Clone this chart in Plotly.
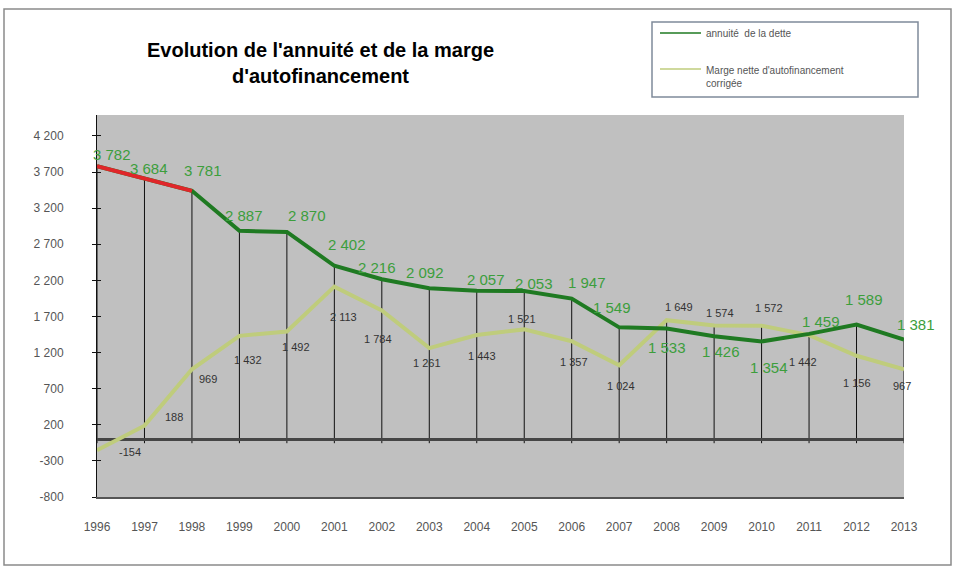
import plotly.graph_objects as go

years = list(range(1996, 2014))
# annuité de la dette (line positions) and printed labels
annuite = [3782, 3604, 3440, 2887, 2870, 2402, 2216, 2092, 2057, 2053, 1947, 1549, 1533, 1426, 1354, 1459, 1589, 1381]
annuite_labels = [3782, 3684, 3781, 2887, 2870, 2402, 2216, 2092, 2057, 2053, 1947, 1549, 1533, 1426, 1354, 1459, 1589, 1381]
# marge nette d'autofinancement corrigée
marge = [-154, 188, 969, 1432, 1492, 2113, 1784, 1261, 1443, 1521, 1357, 1024, 1649, 1574, 1572, 1442, 1156, 967]
ytick_vals = [-800, -300, 200, 700, 1200, 1700, 2200, 2700, 3200, 3700, 4200]

# label pixel offsets (style)
g_off = [(15, -12), (5, -10), (11, -20), (5, -15), (20, -16), (13, -21), (-5, -12), (-4, -16), (9, -11),
         (10, -7), (15, -16), (-7, -20), (0, 19), (7, 15), (7, 26), (12, -12), (7, -25), (12, -15)]
m_off = [(33, 2), (30, -9), (16, 10), (9, 24), (9, 16), (9, 30), (-4, 29), (-2, 15), (5, 21),
         (-2, -10), (2, 21), (2, 21), (12, -13), (6, -13), (7, -18), (-6, 27), (0, 27), (-2, 17)]

W, H = 959, 567
L, R, T, B = 97, 904, 115, 497


def px(x):
    return (x - L) / (R - L)


def py(y):
    return (B - y) / (B - T)


def fmt(v):
    return f"{v:,}".replace(",", " ")


GREEN = "#1f7a22"
GREEN_LBL = "#3c9e3c"
OLIVE = "#bfcc7c"
RED = "#e0262a"
FONT = "Liberation Sans, Arial"

fig = go.Figure()
fig.add_trace(go.Scatter(x=years, y=marge, mode="lines", line=dict(color=OLIVE, width=4),
                         showlegend=False, hoverinfo="skip"))
fig.add_trace(go.Scatter(x=years, y=annuite, mode="lines", line=dict(color=GREEN, width=4),
                         showlegend=False, hoverinfo="skip"))
fig.add_trace(go.Scatter(x=years[:3], y=annuite[:3], mode="lines", line=dict(color=RED, width=4),
                         showlegend=False, hoverinfo="skip"))
fig.add_trace(go.Scatter(x=[years[0]], y=[0], yaxis="y2", mode="markers", marker=dict(opacity=0),
                         showlegend=False, hoverinfo="skip"))

shapes = []
for yr, a, m in zip(years, annuite, marge):
    shapes.append(dict(type="line", xref="x", yref="y", x0=yr, x1=yr, y0=-55, y1=max(a, m),
                       line=dict(color="#101010", width=1), layer="below"))
# outer frame
shapes.append(dict(type="rect", xref="paper", yref="paper", x0=px(4), x1=px(951), y0=py(565), y1=py(9),
                   line=dict(color="#8a8a8a", width=1.5), layer="below"))
# legend box
shapes.append(dict(type="rect", xref="paper", yref="paper", x0=px(652), x1=px(918), y0=py(97), y1=py(22),
                   line=dict(color="#7f8a9a", width=1.5), fillcolor="white"))
shapes.append(dict(type="line", xref="paper", yref="paper", x0=px(660), x1=px(701), y0=py(33), y1=py(33),
                   line=dict(color=GREEN, width=1.5)))
shapes.append(dict(type="line", xref="paper", yref="paper", x0=px(660), x1=px(701), y0=py(69), y1=py(69),
                   line=dict(color=OLIVE, width=1.5)))

ann = []
for i, yr in enumerate(years):
    dx, dy = g_off[i]
    ann.append(dict(x=yr, y=annuite[i], xref="x", yref="y", text=fmt(annuite_labels[i]), showarrow=False,
                    xanchor="center", yanchor="middle",
                    xshift=dx, yshift=-dy, font=dict(family=FONT, size=15, color=GREEN_LBL)))
    dx, dy = m_off[i]
    ann.append(dict(x=yr, y=marge[i], xref="x", yref="y", text=fmt(marge[i]), showarrow=False,
                    xanchor="center", yanchor="middle",
                    xshift=dx, yshift=-dy, font=dict(family=FONT, size=11, color="#333333")))

ann.append(dict(x=px(320), y=py(63), xref="paper", yref="paper", showarrow=False,
                xanchor="center", yanchor="middle",
                text="<b>Evolution de l'annuité et de la marge<br>d'autofinancement</b>",
                font=dict(family=FONT, size=20, color="black")))
ann.append(dict(x=px(704), y=py(33), xref="paper", yref="paper", xanchor="left", yanchor="middle",
                showarrow=False,
                text="annuité  de la dette", font=dict(family=FONT, size=10, color="#555555")))
ann.append(dict(x=px(704), y=py(77), xref="paper", yref="paper", xanchor="left", yanchor="middle",
                showarrow=False, align="left",
                text="Marge nette d'autofinancement<br>corrigée",
                font=dict(family=FONT, size=10, color="#555555")))

yr_range = [-800, 4490]
fig.update_layout(
    width=W, height=H,
    margin=dict(l=L, r=W - R, t=T, b=H - B),
    paper_bgcolor="white",
    plot_bgcolor="#c0c0c0",
    showlegend=False,
    shapes=shapes,
    annotations=ann,
    xaxis=dict(range=[1996, 2013], tickvals=years, ticktext=[str(y) for y in years], showgrid=False,
               zeroline=False, showline=True, linecolor="#555555", linewidth=2, ticks="",
               ticklabelstandoff=18,
               tickfont=dict(family=FONT, size=12, color="#555555")),
    yaxis=dict(range=yr_range, tickvals=ytick_vals, ticktext=[fmt(v) for v in ytick_vals], showgrid=False,
               zeroline=True, zerolinecolor="#454545", zerolinewidth=3,
               showline=True, linecolor="#111111", linewidth=1, ticks="outside", ticklen=4,
               tickcolor="#111111", ticklabelstandoff=26,
               tickfont=dict(family=FONT, size=12, color="#555555")),
    yaxis2=dict(range=yr_range, tickvals=ytick_vals, overlaying="y", side="left", ticks="inside", ticklen=4,
                tickcolor="#111111", showticklabels=False, showgrid=False, zeroline=False, showline=False),
)

fig.write_html("out.html", config={"displayModeBar": False},
               post_script="document.body.style.margin='0';document.body.style.overflow='hidden';")
